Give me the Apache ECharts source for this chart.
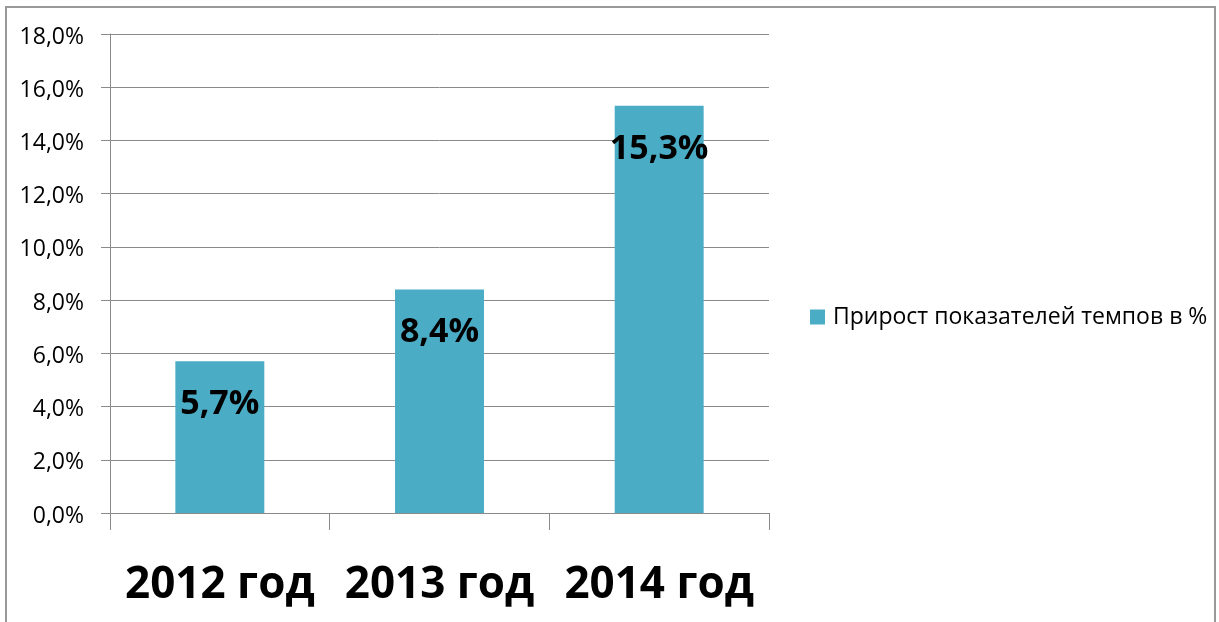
<!DOCTYPE html>
<html>
<head>
<meta charset="utf-8">
<script src="https://cdn.jsdelivr.net/npm/echarts@6/dist/echarts.min.js"></script>
<style>
html,body{margin:0;padding:0;background:#fff;}
#c{width:1219px;height:622px;}
</style>
</head>
<body>
<div id="c"></div>
<script>
const categories = ['2012 год', '2013 год', '2014 год'];
const seriesName = 'Прирост показателей темпов в %';
const values = [5.7, 8.4, 15.3];
const yTicks = { min: 0, max: 18, interval: 2 };

const fmt = v => v.toFixed(1).replace('.', ',') + '%';
const gray = '#8a8a8a';

const chart = echarts.init(document.getElementById('c'), null, { renderer: 'canvas' });
chart.setOption({
  animation: false,
  backgroundColor: '#fff',
  graphic: [{
    type: 'rect',
    shape: { x: 6, y: 7, width: 1209, height: 640 },
    style: { fill: 'none', stroke: '#999', lineWidth: 2 },
    z: -1
  }],
  grid: { left: 110, right: 450, top: 34, bottom: 109 },
  legend: {
    orient: 'vertical',
    left: 810,
    top: 302,
    padding: 0,
    itemWidth: 15,
    itemHeight: 15,
    icon: 'rect',
    data: [seriesName],
    textStyle: { fontFamily: 'Open Sans', fontSize: 23, color: '#000', lineHeight: 30, padding: [0, 0, 0, 3] }
  },
  xAxis: {
    type: 'category',
    data: categories,
    axisLine: { lineStyle: { color: gray, width: 1 } },
    axisTick: { show: true, length: 17, lineStyle: { color: gray } },
    axisLabel: { interval: 0, hideOverlap: false, margin: 50, fontFamily: 'Open Sans', fontWeight: 'bold', fontSize: 44, color: '#000' }
  },
  yAxis: {
    type: 'value',
    min: yTicks.min, max: yTicks.max, interval: yTicks.interval,
    axisLine: { show: true, lineStyle: { color: gray, width: 1 } },
    axisTick: { show: true, length: 9, lineStyle: { color: gray } },
    splitLine: { lineStyle: { color: gray, width: 1 } },
    axisLabel: { formatter: fmt, margin: 26, fontFamily: 'Open Sans', fontSize: 23, color: '#000', verticalAlign: 'top', lineHeight: 24, padding: [-9, 0, 0, 0] }
  },
  series: [{
    name: seriesName,
    type: 'bar',
    data: values,
    barWidth: '40.5%',
    itemStyle: { color: '#4BACC6' },
    label: {
      show: true,
      position: ['50%', 43],
      align: 'center',
      verticalAlign: 'middle',
      formatter: p => fmt(p.value),
      fontFamily: 'Open Sans',
      fontWeight: 'bold',
      fontSize: 34,
      color: '#000'
    }
  }]
});
</script>
</body>
</html>
